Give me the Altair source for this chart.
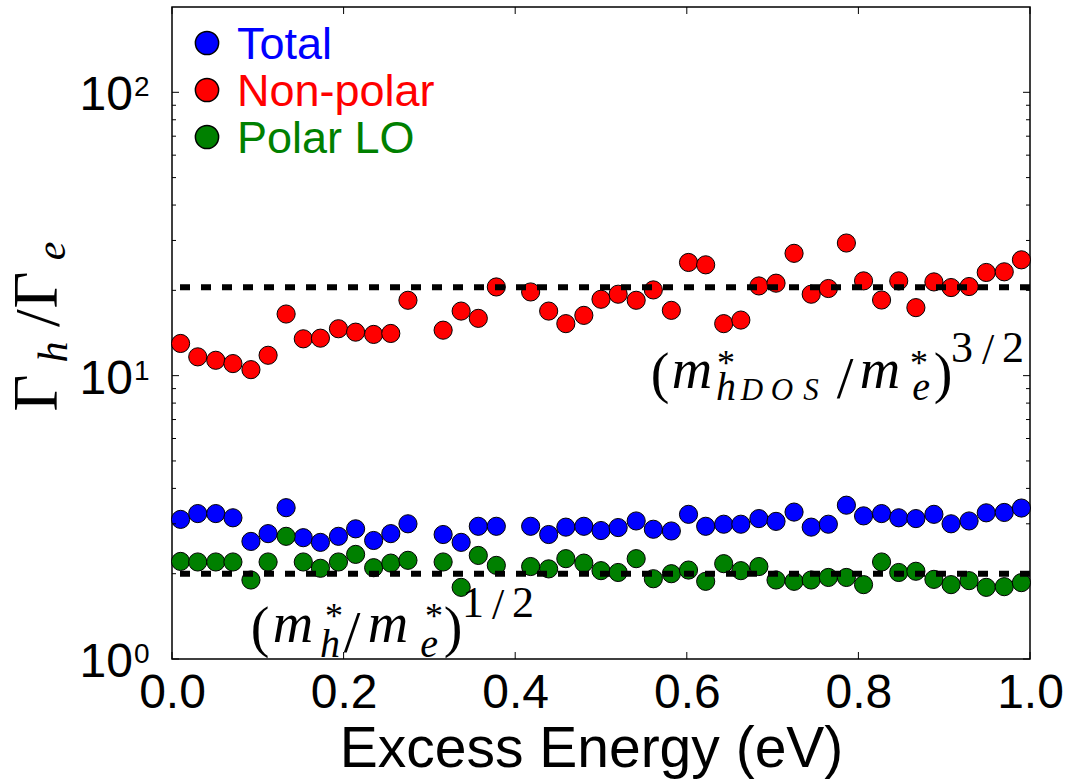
import altair as alt
import pandas as pd

# ---------------- data ----------------
energy = [0.010, 0.030, 0.051, 0.071, 0.092, 0.112, 0.133, 0.153, 0.173, 0.194,
          0.214, 0.235, 0.255, 0.275, 0.316, 0.337, 0.357, 0.378, 0.418, 0.439,
          0.459, 0.480, 0.500, 0.520, 0.541, 0.561, 0.582, 0.602, 0.622, 0.643,
          0.663, 0.684, 0.704, 0.725, 0.745, 0.765, 0.786, 0.806, 0.827, 0.847,
          0.867, 0.888, 0.908, 0.929, 0.949, 0.970, 0.990]

total = [3.11, 3.26, 3.26, 3.15, 2.60, 2.77, 3.42, 2.68, 2.58, 2.71,
         2.88, 2.62, 2.77, 3.00, 2.75, 2.58, 2.94, 2.94, 2.94, 2.75,
         2.92, 2.94, 2.84, 2.91, 3.07, 2.87, 2.83, 3.24, 2.94, 2.99,
         2.99, 3.13, 3.06, 3.30, 2.92, 2.99, 3.49, 3.20, 3.26, 3.15,
         3.13, 3.24, 3.00, 3.07, 3.28, 3.29, 3.41]

nonpolar = [12.99, 11.65, 11.33, 11.03, 10.50, 11.80, 16.50, 13.49, 13.56, 14.64,
            14.24, 13.98, 14.09, 18.45, 14.47, 16.90, 15.93, 20.56, 19.74, 16.90,
            15.26, 16.32, 18.60, 19.38, 18.45, 20.07, 17.00, 25.09, 24.61, 15.26,
            15.71, 20.73, 21.20, 27.02, 19.38, 20.30, 29.38, 21.60, 18.49, 21.60,
            17.38, 21.42, 20.46, 20.63, 23.13, 23.25, 25.63]

polar = [2.21, 2.20, 2.20, 2.20, 1.90, 2.20, 2.71, 2.20, 2.09, 2.20,
         2.34, 2.10, 2.18, 2.23, 2.20, 1.79, 2.32, 2.14, 2.12, 2.08,
         2.26, 2.18, 2.05, 2.02, 2.26, 1.92, 2.00, 2.06, 1.88, 2.17,
         2.05, 2.12, 1.90, 1.88, 1.90, 1.94, 1.94, 1.83, 2.20, 2.02,
         2.04, 1.91, 1.83, 1.89, 1.79, 1.80, 1.86]

series_names = ["Total", "Non-polar", "Polar LO"]
series_colors = ["#0000ff", "#ff0000", "#008000"]
ref_levels = [20.5, 2.0]          # (m_hDOS/m_e)^(3/2), (m_h/m_e)^(1/2)
x_ticks = [0.0, 0.2, 0.4, 0.6, 0.8, 1.0]
y_major = [1, 10, 100]
y_exp = ["0", "1", "2"]
y_minor = [2, 3, 4, 5, 6, 7, 8, 9, 20, 30, 40, 50, 60, 70, 80, 90]

# ---------------- layout ----------------
W, H = 858, 652
L, T = 172, 7

rows = []
for name, vals in zip(series_names, [total, nonpolar, polar]):
    for e, v in zip(energy, vals):
        rows.append({"energy": e, "ratio": v, "series": name})
df = pd.DataFrame(rows)

xscale = alt.Scale(domain=[0, 1], nice=False, zero=False)
yscale = alt.Scale(type="log", domain=[1, 200], nice=False)
one = pd.DataFrame({"a": [0]})

points = alt.Chart(df).mark_circle(size=330, opacity=1, stroke="black", strokeWidth=1).encode(
    x=alt.X("energy:Q", scale=xscale,
            axis=alt.Axis(values=x_ticks, format=".1f", labelFont="Liberation Sans",
                          labelFontSize=48, labelColor="black", labelPadding=10,
                          labelFlush=False, labelOverlap=False, ticks=False, domain=False,
                          grid=False, title="Excess Energy (eV)", titleFont="Liberation Sans",
                          titleFontSize=57, titleFontWeight="normal", titleColor="black",
                          titleY=107, titleX=419, titleBaseline="alphabetic")),
    y=alt.Y("ratio:Q", scale=yscale, axis=None),
    color=alt.Color("series:N", scale=alt.Scale(domain=series_names, range=series_colors), legend=None),
)

refs = alt.Chart(pd.DataFrame({"v": ref_levels})).mark_rule(
    color="black", strokeWidth=6, strokeDash=[10, 11]).encode(
    y=alt.Y("v:Q", scale=yscale))

xt = pd.DataFrame({"t": x_ticks})
xtick_b = alt.Chart(xt).mark_rule(color="black", strokeWidth=1).encode(
    x=alt.X("t:Q", scale=xscale), y=alt.value(H), y2=alt.value(H - 7))
xtick_t = alt.Chart(xt).mark_rule(color="black", strokeWidth=1).encode(
    x=alt.X("t:Q", scale=xscale), y=alt.value(0), y2=alt.value(7))

ymj = pd.DataFrame({"t": y_major, "e": y_exp})
ymn = pd.DataFrame({"t": y_minor})
ytick_l = alt.Chart(ymj).mark_rule(color="black", strokeWidth=1).encode(
    y=alt.Y("t:Q", scale=yscale), x=alt.value(0), x2=alt.value(7))
ytick_r = alt.Chart(ymj).mark_rule(color="black", strokeWidth=1).encode(
    y=alt.Y("t:Q", scale=yscale), x=alt.value(W), x2=alt.value(W - 7))
yminor_l = alt.Chart(ymn).mark_rule(color="black", strokeWidth=1).encode(
    y=alt.Y("t:Q", scale=yscale), x=alt.value(0), x2=alt.value(4))
yminor_r = alt.Chart(ymn).mark_rule(color="black", strokeWidth=1).encode(
    y=alt.Y("t:Q", scale=yscale), x=alt.value(W), x2=alt.value(W - 4))

ylab_base = alt.Chart(ymj).mark_text(
    text="10", font="Liberation Sans", fontSize=48, align="right", baseline="alphabetic",
    dy=18, color="black").encode(y=alt.Y("t:Q", scale=yscale), x=alt.value(-39))
ylab_exp = alt.Chart(ymj).mark_text(
    font="Liberation Sans", fontSize=28, align="left", baseline="alphabetic",
    dy=4, color="black").encode(y=alt.Y("t:Q", scale=yscale), x=alt.value(-38), text="e:N")


def txt(s, x, y, size, italic=False, align="center", angle=0,
        family="Liberation Serif", color="black"):
    return alt.Chart(one).mark_text(
        text=s, fontSize=size, font=family, fontStyle="italic" if italic else "normal",
        align=align, baseline="alphabetic", angle=angle, color=color).encode(
        x=alt.value(x - L), y=alt.value(y - T))


pieces = []
# y-axis title  Γ_h / Γ_e  (rotated)
pieces += [
    txt("Γ", 57, 393, 64, angle=270),
    txt("h", 67, 352, 42, italic=True, angle=270),
    txt("/", 59, 318, 64, angle=270),
    txt("Γ", 57, 290, 64, angle=270),
    txt("e", 65, 251, 42, italic=True, angle=270),
]
# upper annotation (m*_hDOS / m*_e)^(3/2)
pieces += [
    txt("(", 660, 392, 56),
    txt("m", 692, 388, 56, italic=True),
    txt("*", 726, 375, 36),
    txt("h", 726, 400, 40, italic=True),
    txt("D", 752, 400, 31, italic=True),
    txt("O", 782, 400, 31, italic=True),
    txt("S", 811, 400, 31, italic=True),
    txt("/", 845, 398, 60),
    txt("m", 880, 388, 56, italic=True),
    txt("*", 919, 375, 36),
    txt("e", 921, 400, 40, italic=True),
    txt(")", 943, 392, 56),
    txt("3", 962, 362, 44),
    txt("/", 988, 364, 44),
    txt("2", 1013, 362, 44),
]
# lower annotation (m*_h / m*_e)^(1/2)
pieces += [
    txt("(", 260, 646, 56),
    txt("m", 293, 642, 56, italic=True),
    txt("*", 334, 628, 36),
    txt("h", 330, 657, 40, italic=True),
    txt("/", 352, 652, 60),
    txt("m", 388, 642, 56, italic=True),
    txt("*", 434, 628, 36),
    txt("e", 429, 657, 40, italic=True),
    txt(")", 453, 646, 56),
    txt("1", 473, 617, 44),
    txt("/", 498, 619, 44),
    txt("2", 523, 617, 44),
]

# legend
for i, (name, col) in enumerate(zip(series_names, series_colors)):
    cy = 43 + 47 * i
    pieces.append(alt.Chart(one).mark_circle(size=540, opacity=1, color=col, stroke="black",
                                             strokeWidth=1.5).encode(
        x=alt.value(207 - L), y=alt.value(cy - T)))
    pieces.append(txt(name, 237, cy + 16, 45, align="left", family="Liberation Sans", color=col))

chart = alt.layer(
    points, refs, xtick_b, xtick_t, ytick_l, ytick_r, yminor_l, yminor_r,
    ylab_base, ylab_exp, *pieces
).properties(
    width=W, height=H,
    padding={"left": L, "top": T, "right": 1082 - L - W, "bottom": 782 - T - H},
    autosize=alt.AutoSizeParams(type="none"),
    background="white",
).configure_view(stroke="black", strokeWidth=1.5)

chart.save("out.html", embed_options={"renderer": "svg", "actions": False})
